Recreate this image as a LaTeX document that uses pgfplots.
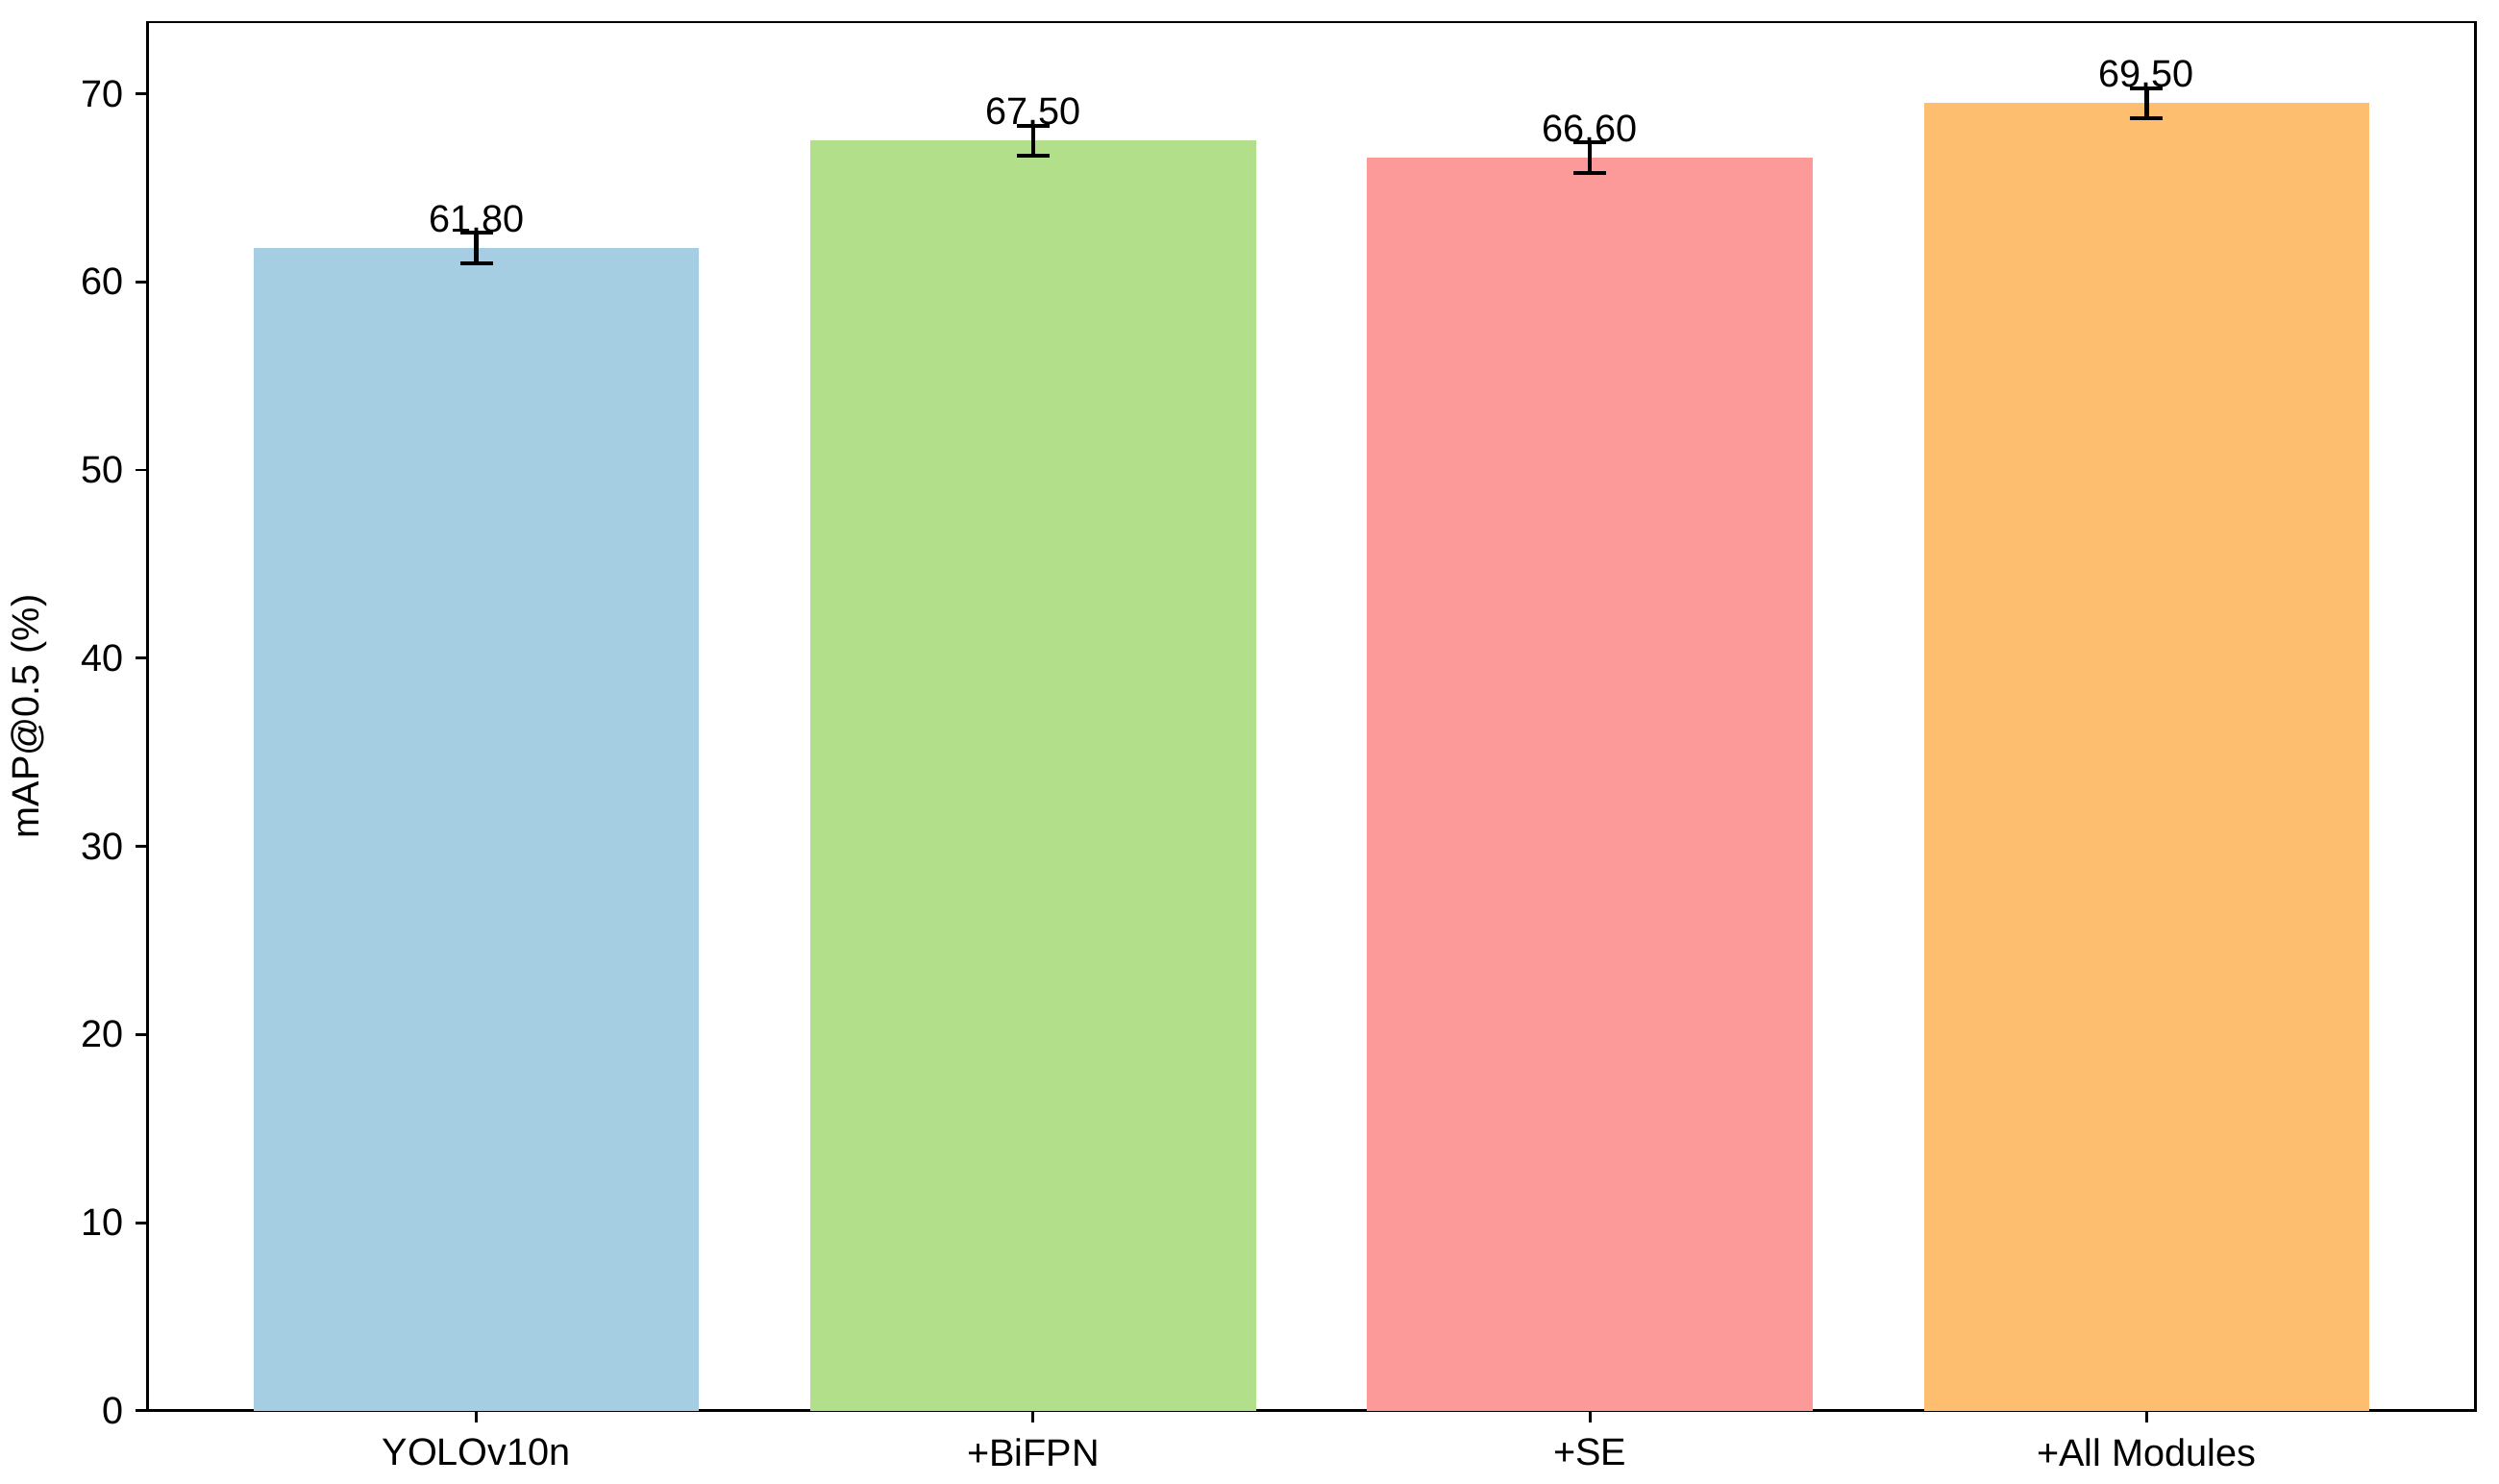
\documentclass[border=0pt]{standalone}
\usepackage{pgfplots}
\pgfplotsset{compat=1.18}
\usepackage{fontspec}
\setmainfont{Liberation Sans}
\definecolor{cblue}{HTML}{A6CEE3}
\definecolor{cgreen}{HTML}{B2DF8A}
\definecolor{cred}{HTML}{FB9A99}
\definecolor{corange}{HTML}{FDBF6F}
\begin{document}
\begin{tikzpicture}
\begin{axis}[
  width=672pt, height=401pt, scale only axis,
  xmin=-0.59, xmax=3.59, ymin=0, ymax=73.8,
  xtick={0,1,2,3},
  xticklabels={YOLOv10n,+BiFPN,+SE,+All Modules},
  ytick={0,10,...,70},
  tick align=outside, tick pos=left,
  major tick length=3.5pt,
  every tick/.style={black, line width=0.8pt},
  axis line style={line width=0.8pt},
  tick label style={font=\fontsize{11}{13}\selectfont},
  label style={font=\fontsize{11}{13}\selectfont},
  /pgf/number format/assume math mode=true,
  ylabel={mAP@0.5 (\%)},
  ylabel style={yshift=3pt},
  xticklabel style={yshift=-1pt},
]
% bars with error bars
\addplot[ybar, bar width=0.8, bar shift=0pt, fill=cblue, draw=none,
  error bars/.cd, y dir=both, y explicit,
  error bar style={black, line width=1.3pt},
  error mark options={black, rotate=90, mark size=4.7pt, line width=1.1pt}]
  coordinates {(0,61.8) +- (0,0.8)};
\addplot[ybar, bar width=0.8, bar shift=0pt, fill=cgreen, draw=none,
  error bars/.cd, y dir=both, y explicit,
  error bar style={black, line width=1.3pt},
  error mark options={black, rotate=90, mark size=4.7pt, line width=1.1pt}]
  coordinates {(1,67.5) +- (0,0.8)};
\addplot[ybar, bar width=0.8, bar shift=0pt, fill=cred, draw=none,
  error bars/.cd, y dir=both, y explicit,
  error bar style={black, line width=1.3pt},
  error mark options={black, rotate=90, mark size=4.7pt, line width=1.1pt}]
  coordinates {(2,66.6) +- (0,0.8)};
\addplot[ybar, bar width=0.8, bar shift=0pt, fill=corange, draw=none,
  error bars/.cd, y dir=both, y explicit,
  error bar style={black, line width=1.3pt},
  error mark options={black, rotate=90, mark size=4.7pt, line width=1.1pt}]
  coordinates {(3,69.5) +- (0,0.8)};
% value labels
\begin{scope}[every node/.style={anchor=south, inner sep=0pt, font=\fontsize{11}{13}\selectfont}]
\node at (axis cs:0,62.6) {61.80};
\node at (axis cs:1,68.3) {67.50};
\node at (axis cs:2,67.4) {66.60};
\node at (axis cs:3,70.3) {69.50};
\end{scope}
\coordinate (ll) at (rel axis cs:0,0);
\coordinate (ur) at (rel axis cs:1,1);
\end{axis}
% figure margins as in the reference
\path ([shift={(-42.7pt,-21.1pt)}]ll) rectangle ([shift={(6.9pt,6.4pt)}]ur);
\end{tikzpicture}
\end{document}
